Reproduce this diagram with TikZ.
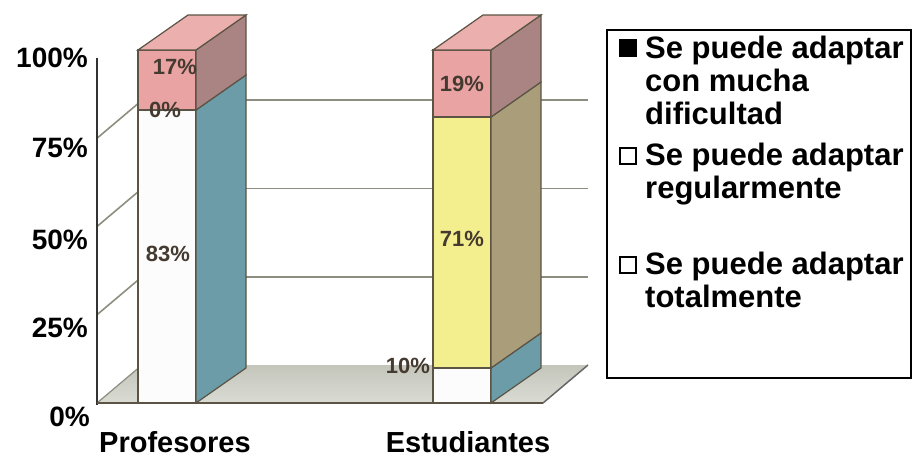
\documentclass[tikz,border=0pt]{standalone}
\usepackage{fontspec}
\setmainfont{Liberation Sans}
\definecolor{pinkF}{HTML}{E9A3A3}
\definecolor{pinkT}{HTML}{EBB0AE}
\definecolor{pinkS}{HTML}{A98483}
\definecolor{whiteF}{HTML}{FBFCFB}
\definecolor{whiteS}{HTML}{6B9CA8}
\definecolor{yelF}{HTML}{F4EF8E}
\definecolor{yelS}{HTML}{A99D7A}
\definecolor{edgec}{HTML}{5B5445}
\definecolor{gridc}{HTML}{8E8E80}
\definecolor{floorA}{HTML}{C4C6BC}
\definecolor{floorB}{HTML}{DADBD3}
\definecolor{valc}{HTML}{453A30}
\newcommand\mybarseg[5]{%
  \filldraw[draw=edgec, line width=1.2pt, fill=#4] (#1,#2) rectangle ({#1+58},#3);
  \filldraw[draw=edgec, line width=1.2pt, fill=#5] ({#1+58},#2) -- ({#1+108},{#2-35}) -- ({#1+108},{#3-35}) -- ({#1+58},#3) -- cycle;
}
\newcommand\mybartop[2]{%
  \filldraw[draw=edgec, line width=1.2pt, fill=pinkT] (#1,#2) -- ({#1+50},{#2-35}) -- ({#1+108},{#2-35}) -- ({#1+58},#2) -- cycle;
}
\begin{document}
\begin{tikzpicture}[x=1pt,y=-1pt,
  ticklab/.style={font=\fontsize{28}{30}\selectfont\bfseries, anchor=east, inner sep=0pt},
  catlab/.style={font=\fontsize{29}{31}\selectfont\bfseries, anchor=base, inner sep=0pt},
  vallab/.style={font=\fontsize{22}{24}\selectfont\bfseries, text=valc, inner sep=0pt},
  legline/.style={font=\fontsize{31}{33}\selectfont\bfseries, anchor=base west, inner sep=0pt},
  legmark/.style={draw=black, line width=1.6pt, minimum size=16pt, inner sep=0pt, anchor=south west},
  gridline/.style={draw=gridc, line width=1.6pt}]
\useasboundingbox[fill=white] (0,0) rectangle (913,466);
% floor
\fill[top color=floorA, bottom color=floorB] (97,403) -- (543,403) -- (588,365) -- (142,365) -- cycle;
\draw[gray!80!black, line width=1.5pt] (543,403) -- (588,365);
\draw[gridc, line width=1.2pt] (97,403) -- (142,365);
% gridlines (back and left wall)
\foreach \p in {25,50,75}{
  \draw[gridline] (142,{365-3.53*\p}) -- (588,{365-3.53*\p});
  \draw[gridline] (97,{403-3.53*\p}) -- (142,{365-3.53*\p});
}
% axes
\draw[black!80, line width=1.6pt] (97,58) -- (97,405);
\draw[edgec, line width=1.8pt] (97,403) -- (543,403);
% Profesores bar
\mybarseg{138}{403}{110}{whiteF}{whiteS}
\mybarseg{138}{110}{50}{pinkF}{pinkS}
\mybartop{138}{50}
% Estudiantes bar
\mybarseg{433}{403}{368}{whiteF}{whiteS}
\mybarseg{433}{368}{117}{yelF}{yelS}
\mybarseg{433}{117}{50}{pinkF}{pinkS}
\mybartop{433}{50}
% value labels
\node[vallab] (v17) at (175,67) {17\%};
\node[vallab] (v0) at (165,110) {0\%};
\node[vallab] (v83) at (168,254) {83\%};
\node[vallab] (v19) at (462,84) {19\%};
\node[vallab] (v71) at (462,239) {71\%};
\node[vallab] (v10) at (408,366) {10\%};
% tick labels
\node[ticklab] (t100) at (88,58) {100\%};
\node[ticklab] (t75) at (88,148) {75\%};
\node[ticklab] (t50) at (88,240) {50\%};
\node[ticklab] (t25) at (88,328) {25\%};
\node[ticklab] (t0) at (90,417) {0\%};
% category labels
\node[catlab] (cP) at (175,452) {Profesores};
\node[catlab] (cE) at (468,452) {Estudiantes};
% legend
\draw[black, line width=2pt] (607,30) rectangle (911,378);
\node[legmark, fill=black] (m1) at (619,57) {};
\node[legmark, fill=white] (m2) at (619,165) {};
\node[legmark, fill=white] (m3) at (619,274) {};
\node[legline] (l1a) at (645,58) {Se puede adaptar};
\node[legline] (l1b) at (645,91) {con mucha};
\node[legline] (l1c) at (645,124) {dificultad};
\node[legline] (l2a) at (645,165) {Se puede adaptar};
\node[legline] (l2b) at (645,198) {regularmente};
\node[legline] (l3a) at (645,274) {Se puede adaptar};
\node[legline] (l3b) at (645,307) {totalmente};
\end{tikzpicture}
\end{document}
